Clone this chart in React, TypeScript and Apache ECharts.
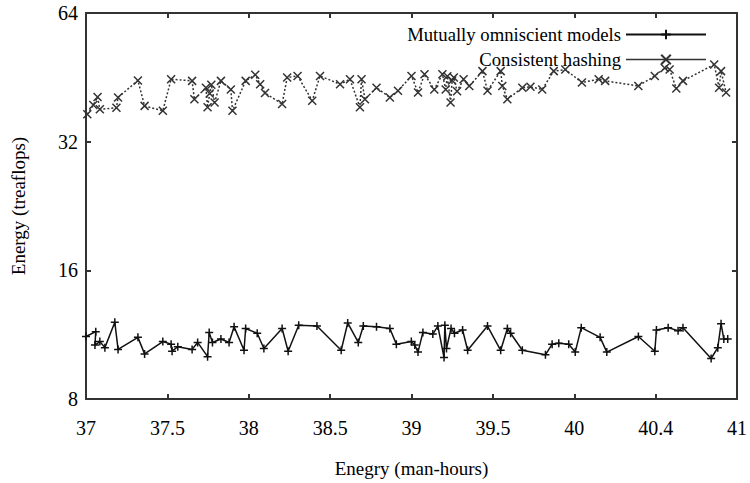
import React, { useEffect, useRef } from "react";
import * as echarts from "echarts";

const xTickLabels = ["37", "37.5", "38", "38.5", "39", "39.5", "40", "40.4", "41"];
const seriesNames = ["Mutually omniscient models", "Consistent hashing"];

const omniX = [
  37.0, 37.06, 37.055, 37.085, 37.116, 37.177, 37.197, 37.319, 37.36, 37.472, 37.523, 37.529,
  37.564, 37.652, 37.686, 37.747, 37.757, 37.777, 37.829, 37.879, 37.91, 37.971, 37.981, 38.052,
  38.093, 38.205, 38.242, 38.307, 38.419, 38.568, 38.608, 38.673, 38.704, 38.785, 38.867, 38.907,
  38.999, 39.02, 39.04, 39.07, 39.131, 39.162, 39.2, 39.205, 39.215, 39.243, 39.264, 39.314,
  39.345, 39.467, 39.548, 39.589, 39.609, 39.681, 39.823, 39.864, 39.905, 39.966, 40.006, 40.043,
  40.159, 40.2, 40.394, 40.495, 40.505, 40.577, 40.638, 40.668, 40.841, 40.882, 40.902, 40.919,
  40.943,
];
const omniY = [
  11.2, 11.5, 10.7, 10.9, 10.55, 12.1, 10.45, 11.15, 10.2, 10.9, 10.75, 10.35,
  10.6, 10.45, 10.85, 10.05, 11.45, 10.85, 11.05, 10.85, 11.8, 10.4, 11.7, 11.4,
  10.5, 11.7, 10.35, 11.9, 11.85, 10.4, 12.05, 10.85, 11.85, 11.8, 11.7, 10.75,
  10.9, 10.7, 10.3, 11.45, 11.35, 11.85, 10.0, 11.9, 10.5, 11.7, 11.4, 11.6,
  10.4, 11.85, 10.4, 11.7, 11.4, 10.4, 10.15, 10.75, 10.8, 10.75, 10.3, 11.75,
  11.15, 10.3, 11.2, 10.35, 11.6, 11.75, 11.55, 11.75, 9.95, 10.55, 12.0, 11.05,
  11.05,
];

const hashX = [
  37.008, 37.045, 37.071, 37.085, 37.187, 37.197, 37.319, 37.36, 37.472, 37.523, 37.652, 37.666,
  37.737, 37.747, 37.76, 37.77, 37.79, 37.829, 37.89, 37.9, 37.981, 38.04, 38.07, 38.1,
  38.205, 38.236, 38.3, 38.39, 38.438, 38.561, 38.622, 38.683, 38.693, 38.714, 38.785, 38.867,
  38.917, 39.0, 39.04, 39.08, 39.14, 39.19, 39.21, 39.22, 39.24, 39.25, 39.26, 39.28,
  39.32, 39.355, 39.436, 39.467, 39.548, 39.558, 39.589, 39.681, 39.731, 39.803, 39.874, 39.945,
  40.047, 40.15, 40.19, 40.394, 40.495, 40.556, 40.586, 40.627, 40.668, 40.86, 40.89, 40.902,
  40.933,
];
const hashY = [
  37.1, 39.0, 40.7, 38.1, 38.4, 40.6, 44.5, 38.8, 37.8, 44.8, 44.4, 40.2,
  42.8, 38.5, 41.5, 43.5, 39.5, 44.4, 42.4, 37.8, 44.4, 45.9, 43.6, 41.6,
  39.2, 45.2, 45.6, 39.9, 45.6, 43.6, 44.8, 38.5, 44.8, 40.2, 42.8, 40.6,
  42.1, 45.6, 41.7, 46.0, 42.4, 46.0, 42.4, 45.5, 39.5, 44.5, 45.2, 42.0,
  44.8, 43.2, 46.8, 42.1, 46.8, 43.2, 40.2, 42.8, 43.0, 42.4, 46.8, 47.2,
  44.0, 44.8, 44.4, 43.2, 45.6, 47.6, 47.2, 42.6, 44.4, 48.5, 42.8, 46.8,
  41.7,
];

const FONT = "'Liberation Serif', 'Times New Roman', 'DejaVu Serif', serif";

export default function App() {
  const ref = useRef<HTMLDivElement>(null);
  useEffect(() => {
    if (!ref.current) return;
    const chart = echarts.init(ref.current, undefined, { renderer: "svg" });
    const axisLine = { show: true, lineStyle: { color: "#333", width: 2 } };
    const axisTick = { show: true, inside: true, length: 5, lineStyle: { color: "#333", width: 2 } };
    const xBase = {
      type: "value" as const,
      min: 37,
      max: 41,
      interval: 0.5,
      splitLine: { show: false },
      axisLine,
      axisTick,
    };
    const yBase = {
      type: "log" as const,
      logBase: 2,
      min: 8,
      max: 64,
      splitLine: { show: false },
      axisLine,
      axisTick,
    };
    chart.setOption({
      animation: false,
      backgroundColor: "#fff",
      textStyle: { fontFamily: FONT },
      grid: { left: 86, right: 9, top: 13, bottom: 80 },
      legend: {
        data: [
          { name: seriesNames[0] },
          { name: seriesNames[1], lineStyle: { type: "solid", color: "#333", width: 1.5 } },
        ],
        orient: "vertical",
        right: 38,
        top: 20,
        align: "right",
        itemWidth: 80,
        itemHeight: 12,
        itemGap: 6,
        textStyle: { fontFamily: FONT, fontSize: 18.7, color: "#000" },
      },
      xAxis: [
        {
          ...xBase,
          position: "bottom",
          name: "Enegry (man-hours)",
          nameLocation: "middle",
          nameGap: 60,
          nameTextStyle: { fontFamily: FONT, fontSize: 19, color: "#000" },
          axisLabel: {
            fontFamily: FONT,
            fontSize: 20,
            color: "#000",
            margin: 19,
            formatter: (v: number) => {
              const i = Math.round((v - 37) / 0.5);
              return xTickLabels[i] ?? "";
            },
          },
        },
        { ...xBase, position: "top", axisLabel: { show: false } },
      ],
      yAxis: [
        {
          ...yBase,
          position: "left",
          name: "Energy (treaflops)",
          nameLocation: "middle",
          nameGap: 58,
          nameTextStyle: { fontFamily: FONT, fontSize: 19, color: "#000" },
          axisLabel: { fontFamily: FONT, fontSize: 20, color: "#000", margin: 8 },
        },
        { ...yBase, position: "right", axisLabel: { show: false } },
      ],
      series: [
        {
          name: seriesNames[0],
          type: "line",
          xAxisIndex: 0,
          yAxisIndex: 0,
          data: omniX.map((x, i) => [x, omniY[i]]),
          symbol: "path://M0,5L10,5M5,0L5,10",
          symbolSize: 8,
          showSymbol: true,
          lineStyle: { color: "#111", width: 1.5 },
          itemStyle: { color: "#111", borderColor: "#111", borderWidth: 1.5 },
        },
        {
          name: seriesNames[1],
          type: "line",
          xAxisIndex: 0,
          yAxisIndex: 0,
          data: hashX.map((x, i) => [x, hashY[i]]),
          symbol: "path://M0,0L10,10M10,0L0,10",
          symbolSize: 8,
          showSymbol: true,
          lineStyle: { color: "#333", width: 1.5, type: [2, 2] },
          itemStyle: { color: "#333", borderColor: "#333", borderWidth: 1.5 },
        },
      ],
    });
    return () => chart.dispose();
  }, []);
  return (
    <div
      ref={ref}
      style={{ position: "absolute", left: 0, top: 0, width: 750, height: 483 }}
    />
  );
}
